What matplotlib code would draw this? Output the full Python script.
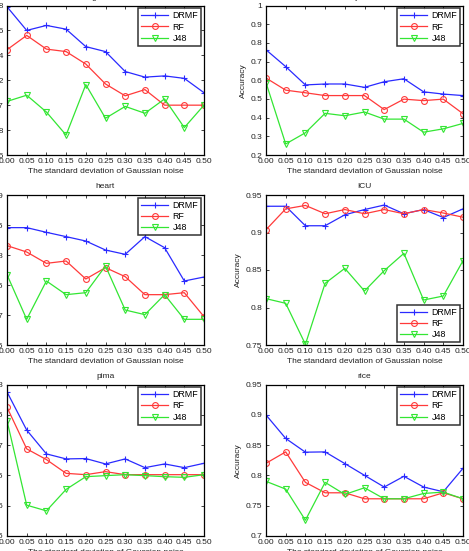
import matplotlib
matplotlib.use("Agg")
import matplotlib.pyplot as plt
from matplotlib.ticker import FuncFormatter, FixedLocator

plt.rcParams['font.family'] = ['Liberation Sans', 'DejaVu Sans']

noise = [0.00, 0.05, 0.10, 0.15, 0.20, 0.25, 0.30, 0.35, 0.40, 0.45, 0.50]
methods = ["DRMF", "RF", "J48"]

# german
german_drmf = [0.779, 0.760, 0.764, 0.761, 0.747, 0.743, 0.727, 0.7225, 0.7235, 0.7215, 0.710]
german_rf = [0.7445, 0.756, 0.745, 0.743, 0.733, 0.717, 0.7075, 0.7125, 0.700, 0.700, 0.700]
german_j48 = [0.703, 0.708, 0.6945, 0.676, 0.7165, 0.6895, 0.699, 0.6935, 0.705, 0.682, 0.700]

# yeast
yeast_drmf = [0.763, 0.673, 0.575, 0.580, 0.580, 0.562, 0.592, 0.608, 0.538, 0.526, 0.518]
yeast_rf = [0.612, 0.547, 0.533, 0.518, 0.518, 0.518, 0.443, 0.499, 0.491, 0.499, 0.421]
yeast_j48 = [0.587, 0.259, 0.319, 0.423, 0.410, 0.430, 0.392, 0.392, 0.322, 0.340, 0.369]

# heart
heart_drmf = [0.8456, 0.8456, 0.8378, 0.8306, 0.8233, 0.8083, 0.8011, 0.8306, 0.8122, 0.7567, 0.7633]
heart_rf = [0.8156, 0.805, 0.7861, 0.790, 0.760, 0.7789, 0.7639, 0.7339, 0.7339, 0.7372, 0.6972]
heart_j48 = [0.7672, 0.6928, 0.7567, 0.7339, 0.7372, 0.7817, 0.7083, 0.7006, 0.7339, 0.6928, 0.6928]

# ICU
icu_drmf = [0.935, 0.935, 0.909, 0.909, 0.9236, 0.9306, 0.9366, 0.925, 0.9306, 0.920, 0.9315]
icu_rf = [0.9037, 0.9315, 0.9361, 0.925, 0.9306, 0.925, 0.9306, 0.925, 0.9306, 0.926, 0.9204]
icu_j48 = [0.8118, 0.8056, 0.7509, 0.8322, 0.8522, 0.822, 0.8491, 0.8722, 0.810, 0.8153, 0.8624]

# pima
pima_drmf = [0.7878, 0.7248, 0.6855, 0.6772, 0.6778, 0.6689, 0.6772, 0.6628, 0.6689, 0.6628, 0.670]
pima_rf = [0.7624, 0.6938, 0.6761, 0.6534, 0.6512, 0.6562, 0.6512, 0.6512, 0.6512, 0.6512, 0.6512]
pima_j48 = [0.7403, 0.6009, 0.5915, 0.6269, 0.6479, 0.6496, 0.6512, 0.6496, 0.6479, 0.6468, 0.6512]

# rice
rice_drmf = [0.8997, 0.861, 0.8383, 0.8388, 0.8195, 0.8001, 0.7808, 0.7985, 0.7808, 0.773, 0.8117]
rice_rf = [0.820, 0.8388, 0.7885, 0.7713, 0.7713, 0.7614, 0.7614, 0.7614, 0.7614, 0.7713, 0.7614]
rice_j48 = [0.7902, 0.7774, 0.726, 0.7885, 0.7686, 0.7796, 0.7614, 0.7614, 0.7702, 0.7724, 0.7614]

titles = ["german", "yeast", "heart", "ICU", "pima", "rice"]
series = [
    (german_drmf, german_rf, german_j48),
    (yeast_drmf, yeast_rf, yeast_j48),
    (heart_drmf, heart_rf, heart_j48),
    (icu_drmf, icu_rf, icu_j48),
    (pima_drmf, pima_rf, pima_j48),
    (rice_drmf, rice_rf, rice_j48),
]
yticks_list = [
    [0.66, 0.68, 0.70, 0.72, 0.74, 0.76, 0.78],
    [0.2, 0.3, 0.4, 0.5, 0.6, 0.7, 0.8, 0.9, 1.0],
    [0.65, 0.70, 0.75, 0.80, 0.85, 0.90],
    [0.75, 0.80, 0.85, 0.90, 0.95],
    [0.55, 0.60, 0.65, 0.70, 0.75, 0.80],
    [0.70, 0.75, 0.80, 0.85, 0.90, 0.95],
]
legend_locs = ["upper right", "upper right", "upper right", "lower right", "upper right", "upper right"]

colors = ["#2a2aff", "#ff3a3a", "#33e633"]
markers = ["+", "o", "v"]

W, H = 469, 551
fig = plt.figure(figsize=(W / 100, H / 100), dpi=100)

col_x = [7, 266]
ax_w = 197
row_y = [(5.5, 155), (195, 345), (384.5, 536)]

fs = 6.0
for i in range(6):
    r, c = divmod(i, 2)
    top, bot = row_y[r]
    ax = fig.add_axes([col_x[c] / W, (H - bot) / H, ax_w / W, (bot - top) / H])
    for k in range(3):
        ax.plot(noise, series[i][k], color=colors[k], marker=markers[k], lw=0.9,
                markersize=4.2 if markers[k] != "+" else 5, markerfacecolor="none",
                markeredgecolor=colors[k], markeredgewidth=0.8, label=methods[k])
    yt = yticks_list[i]
    ax.set_xlim(0, 0.5)
    ax.set_ylim(yt[0], yt[-1])
    ax.xaxis.set_major_locator(FixedLocator(noise))
    ax.yaxis.set_major_locator(FixedLocator(yt))
    ax.xaxis.set_major_formatter(FuncFormatter(lambda v, p: f"{v:.2f}"))
    ax.yaxis.set_major_formatter(FuncFormatter(lambda v, p: f"{round(v, 4):g}"))
    ax.tick_params(direction="in", top=True, right=True, length=2.5, width=0.6,
                   labelsize=fs, pad=2.5, colors="#222222")
    for s in ax.spines.values():
        s.set_linewidth(0.9)
        s.set_color("black")
    ax.set_xlabel("The standard deviation of Gaussian noise", fontsize=fs, labelpad=2, color="#222222")
    ax.set_ylabel("Accuracy", fontsize=fs, labelpad=3, color="#222222")
    ax.set_title(titles[i], fontsize=fs, pad=5, color="#222222")
    leg = ax.legend(loc=legend_locs[i], fontsize=6.4, frameon=True, fancybox=False,
                    handlelength=3.0, handletextpad=0.5, borderpad=0.35,
                    labelspacing=0.25, borderaxespad=0.3)
    leg.get_frame().set_edgecolor("black")
    leg.get_frame().set_linewidth(1.1)

fig.savefig("out.png", dpi=100)
